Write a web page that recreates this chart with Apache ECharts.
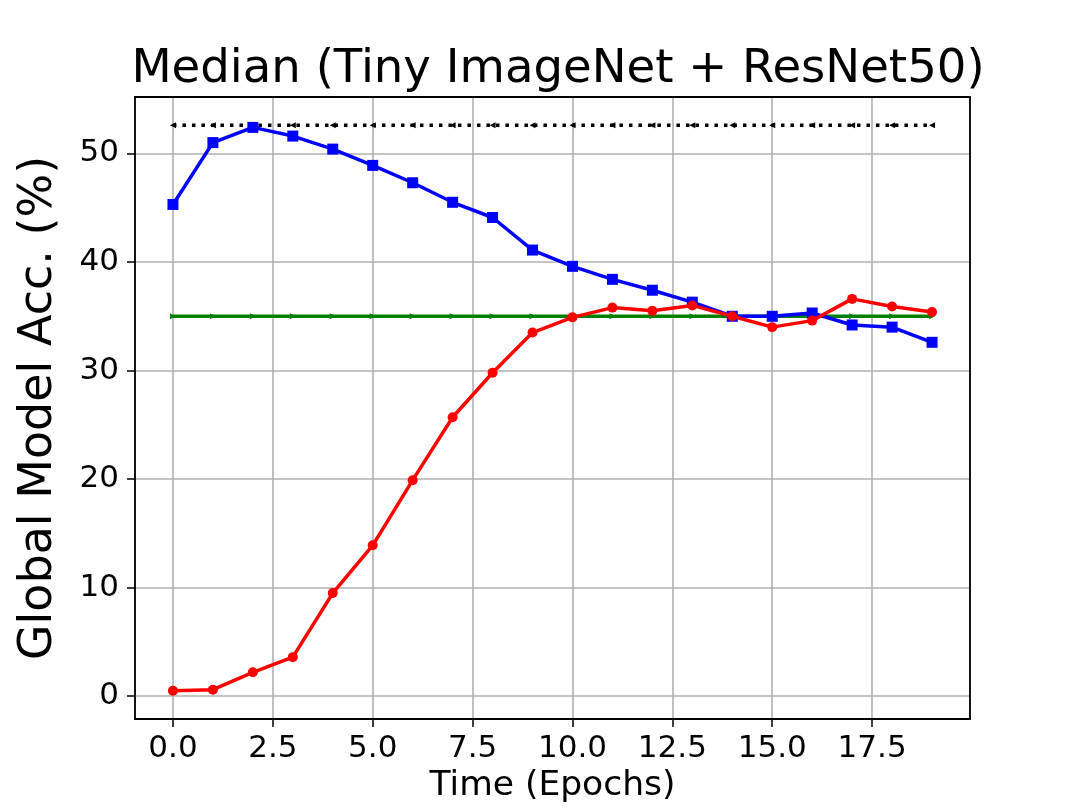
<!DOCTYPE html>
<html>
<head>
<meta charset="utf-8">
<script src="https://cdn.jsdelivr.net/npm/echarts@6/dist/echarts.min.js"></script>
<style>
    html,body{margin:0;padding:0;background:#fff}
    #chart{width:1079px;height:809px}
</style>
</head>
<body>
<div id="chart"></div>
<script>
// epochs on the x axis
var epochs = [0,1,2,3,4,5,6,7,8,9,10,11,12,13,14,15,16,17,18,19];
// blue squares
var blueAcc = [45.3,51.0,52.4,51.6,50.4,48.9,47.3,45.5,44.1,41.1,39.6,38.4,37.4,36.3,35.0,35.0,35.3,34.2,34.0,32.6];
// red circles
var redAcc = [0.5,0.6,2.2,3.6,9.5,13.9,19.9,25.7,29.8,33.5,34.9,35.8,35.5,36.0,35.0,34.0,34.6,36.6,35.9,35.4];
// flat reference lines
var greenAcc = [35.0,35.0,35.0,35.0,35.0,35.0,35.0,35.0,35.0,35.0,35.0,35.0,35.0,35.0,35.0,35.0,35.0,35.0,35.0,35.0];
var blackAcc = [52.6,52.6,52.6,52.6,52.6,52.6,52.6,52.6,52.6,52.6,52.6,52.6,52.6,52.6,52.6,52.6,52.6,52.6,52.6,52.6];

function pairs(ys){
    var out = [];
    for(var i=0;i<epochs.length;i++){
        out.push([epochs[i], ys[i]]);
    }
    return out;
}

var font = 'DejaVu Sans';
var xMin = -0.95, xMax = 19.95, yMin = -2.1, yMax = 55.2;
// plain black frame line for the top / right edges
var frame = {show:true,onZero:false,lineStyle:{color:'#000',width:1.8}};

var myChart = echarts.init(document.getElementById('chart'), null, {renderer:'canvas'});
myChart.setOption({
    animation:false,
    backgroundColor:'#fff',
    title:{
        text:'Median (Tiny ImageNet + ResNet50)',
        left:553,
        top:41,
        textAlign:'center',
        textStyle:{fontFamily:font,fontSize:46.6,fontWeight:'normal',color:'#000'}
    },
    grid:{
        left:135, right:109, top:97, bottom:90,
        outerBoundsMode:'none'
    },
    xAxis:[{
        type:'value',
        min:xMin, max:xMax,
        minInterval:2.5, maxInterval:2.5,
        name:'Time (Epochs)',
        nameLocation:'middle',
        nameGap:36,
        nameTextStyle:{fontFamily:font,fontSize:34.5,color:'#000',verticalAlign:'top'},
        axisLine:frame,
        axisTick:{show:true,length:8,lineStyle:{color:'#000',width:1.5}},
        axisLabel:{
            fontFamily:font,fontSize:31,color:'#000',margin:14,
            showMinLabel:false,showMaxLabel:false,
            formatter:function(v){return v.toFixed(1)}
        },
        splitLine:{show:true,lineStyle:{color:'#b0b0b0',width:1.6}},
        z:2
    },{
        type:'value',position:'top',
        min:xMin, max:xMax,
        axisLine:frame,axisTick:{show:false},axisLabel:{show:false},splitLine:{show:false},
        z:3
    }],
    yAxis:[{
        type:'value',
        min:yMin, max:yMax,
        minInterval:10, maxInterval:10,
        name:'Global Model Acc. (%)',
        nameLocation:'middle',
        nameGap:73,
        nameTextStyle:{fontFamily:font,fontSize:46,color:'#000'},
        axisLine:frame,
        axisTick:{show:true,length:8,lineStyle:{color:'#000',width:1.5}},
        axisLabel:{
            fontFamily:font,fontSize:31,color:'#000',margin:16,
            showMinLabel:false,showMaxLabel:false
        },
        splitLine:{show:true,lineStyle:{color:'#b0b0b0',width:1.6}},
        z:2
    },{
        type:'value',position:'right',
        min:yMin, max:yMax,
        axisLine:frame,axisTick:{show:false},axisLabel:{show:false},splitLine:{show:false},
        z:3
    }],
    series:[
        {
            type:'line',
            data:pairs(blackAcc),
            symbol:'triangle',symbolRotate:90,symbolSize:6,
            itemStyle:{color:'#000'},
            lineStyle:{color:'#000',width:3.5,type:[3.5,6]},
            z:4
        },
        {
            type:'line',
            data:pairs(greenAcc),
            symbol:'triangle',symbolRotate:-90,symbolSize:6,
            itemStyle:{color:'#008000'},
            lineStyle:{color:'#008000',width:3.5},
            z:4
        },
        {
            type:'line',
            data:pairs(blueAcc),
            symbol:'rect',symbolSize:11,
            itemStyle:{color:'#0000ff'},
            lineStyle:{color:'#0000ff',width:3.5},
            z:5
        },
        {
            type:'line',
            data:pairs(redAcc),
            symbol:'circle',symbolSize:10,
            itemStyle:{color:'#ff0000'},
            lineStyle:{color:'#ff0000',width:3.5},
            z:6
        }
    ]
});
</script>
</body>
</html>
